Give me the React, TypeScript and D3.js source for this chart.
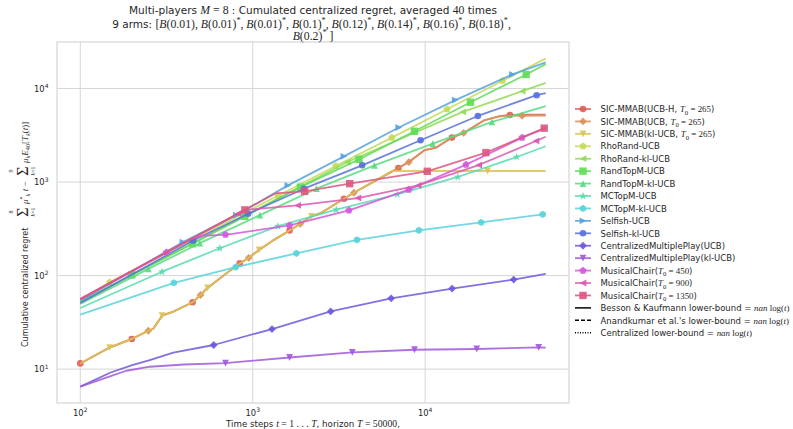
import React from 'react';
import * as d3 from 'd3';

type Pt = [number, number];
type Seg = [string, string];

// ---------- data (t, cumulated centralized regret) ----------
const sicUcbH: Pt[] = [[100,11.5],[148,17],[199,21],[248,25.7],[265,27],[298,37.3],[350,41.5],[448,51.8],[498,62],[547,73.8],[700,105],[841,135],[948,155],[1088,188],[1300,235],[1636,304],[1888,358],[2190,430],[2500,470],[3380,664],[3860,769],[6990,1413],[8040,1637],[9900,2190],[11600,2340],[14300,2990],[16700,3350],[22000,4580],[27000,5080],[31000,5220],[40000,5260],[50000,5270]];
const sicUcb: Pt[] = [[100,11.5],[148,17],[199,21],[248,25.7],[265,27],[298,37.3],[350,41.5],[448,51.8],[498,62],[547,73.8],[700,105],[841,135],[948,155],[1088,188],[1300,235],[1636,304],[1888,358],[2190,430],[2500,470],[3380,664],[3860,769],[6990,1413],[8040,1637],[9900,2190],[11600,2340],[14300,2990],[16700,3350],[22000,4580],[27000,5030],[31000,5150],[36500,5120],[50000,5130]];
const sicKlUcb: Pt[] = [[100,11.5],[148,17],[199,21],[248,25.7],[265,27],[298,37.3],[350,41.5],[448,51.8],[498,62],[547,73.8],[700,105],[841,135],[948,155],[1088,188],[1300,235],[1636,304],[1888,358],[2190,430],[2500,470],[3380,664],[3860,769],[6400,1313],[23000,1313],[50000,1313]];
const rhoRandUcb: Pt[] = [[100,55.5],[148,84.7],[1400,715],[3030,1486],[6410,2990],[13400,6010],[28100,12100],[50000,21000]];
const rhoRandKlUcb: Pt[] = [[100,52],[3530,1637],[16500,5620],[36500,9370],[50000,11500]];
const randTopMUcb: Pt[] = [[100,52.5],[199,101.6],[448,219],[900,430],[1890,883],[4130,1750],[8670,3490],[18300,7140],[38500,14150],[50000,18250]];
const randTopMKlUcb: Pt[] = [[100,49.8],[248,118],[493,222],[1099,443],[2340,849],[5080,1510],[11060,2580],[24400,4400],[50000,6470]];
const mcTopMUcb: Pt[] = [[100,45],[298,110],[644,196],[1400,337],[3050,506],[6890,738],[15450,1133],[33900,1853],[50000,2415]];
const mcTopMKlUcb: Pt[] = [[100,38.2],[349,83.6],[797,123],[1790,173],[4020,241],[9190,304],[21100,370],[48000,451],[50000,458]];
const selfishUcb: Pt[] = [[100,54],[394,228],[804,443],[1600,922],[3380,1884],[7030,3830],[14960,7520],[32100,14160],[50000,19050]];
const selfishKlUcb: Pt[] = [[100,51],[452,237],[940,458],[1983,849],[4310,1510],[9400,2800],[20200,5090],[44300,8490],[50000,8930]];
const cmpUcb: Pt[] = [[100,6.5],[150,9.2],[200,11],[253,12.5],[346,15],[594,18.1],[1294,26.8],[2830,41.4],[6350,57.1],[14320,72.6],[32600,90.6],[50000,104]];
const cmpKlUcb: Pt[] = [[100,6.5],[150,8.4],[185,9.6],[253,10.6],[400,11.2],[695,11.6],[1636,13.3],[3780,15.1],[8670,16.1],[19900,16.4],[45500,17.1],[50000,17]];
const musicalChair450: Pt[] = [[100,56],[316,177],[450,252],[513,268],[695,273],[1636,344],[3614,498],[8035,829],[17260,1536],[36500,2990],[50000,3760]];
const musicalChair900: Pt[] = [[100,56],[820,459],[900,504],[1820,563],[4070,675],[9100,920],[20400,1520],[43900,2750],[50000,3050]];
const musicalChair1350: Pt[] = [[100,56],[900,504],[1350,756],[2000,795],[3650,961],[10280,1303],[22500,2065],[49000,3770],[50000,3840]];

const armMeans = ['0.01', '0.01', '0.01', '0.1', '0.12', '0.14', '0.16', '0.18', '0.2'];
const xTicks = [100, 1000, 10000];
const yTicks = [10, 100, 1000, 10000];

const T0 = (v: string): Seg[] => [['i', 'T'], ['br', '0'], ['r', ' = ' + v]];

const seriesList: { data: Pt[]; marker: string; marks: number[]; label: Seg[] }[] = [
  { data: sicUcbH, marker: 'o', marks: [100, 199, 448, 841, 1636, 3380, 6990, 14300, 31000], label: [['n', 'SIC-MMAB(UCB-H, '], ...T0('265'), ['n', ')']] },
  { data: sicUcb, marker: 'D', marks: [248, 498, 948, 1888, 3860, 8040, 16700, 36500], label: [['n', 'SIC-MMAB(UCB, '], ...T0('265'), ['n', ')']] },
  { data: sicKlUcb, marker: 'v', marks: [148, 298, 547, 1088, 2190, 23000], label: [['n', 'SIC-MMAB(kl-UCB, '], ...T0('265'), ['n', ')']] },
  { data: rhoRandUcb, marker: 'p', marks: [148, 1400, 3030, 6410, 13400, 28100], label: [['n', 'RhoRand-UCB']] },
  { data: rhoRandKlUcb, marker: '<', marks: [3530, 16500, 36500], label: [['n', 'RhoRand-kl-UCB']] },
  { data: randTopMUcb, marker: 's', marks: [199, 448, 900, 1890, 4130, 8670, 18300, 38500], label: [['n', 'RandTopM-UCB']] },
  { data: randTopMKlUcb, marker: '^', marks: [248, 493, 1099, 2340, 5080, 11060, 24400], label: [['n', 'RandTopM-kl-UCB']] },
  { data: mcTopMUcb, marker: '*', marks: [298, 644, 1400, 3050, 6890, 15450, 33900], label: [['n', 'MCTopM-UCB']] },
  { data: mcTopMKlUcb, marker: 'h', marks: [349, 797, 1790, 4020, 9190, 21100, 48000], label: [['n', 'MCTopM-kl-UCB']] },
  { data: selfishUcb, marker: '>', marks: [394, 804, 1600, 3380, 7030, 14960, 32100], label: [['n', 'Selfish-UCB']] },
  { data: selfishKlUcb, marker: 'o', marks: [452, 940, 1983, 4310, 9400, 20200, 44300], label: [['n', 'Selfish-kl-UCB']] },
  { data: cmpUcb, marker: 'D', marks: [594, 1294, 2830, 6350, 14320, 32600], label: [['n', 'CentralizedMultiplePlay(UCB)']] },
  { data: cmpKlUcb, marker: 'v', marks: [695, 1636, 3780, 8670, 19900, 45500], label: [['n', 'CentralizedMultiplePlay(kl-UCB)']] },
  { data: musicalChair450, marker: 'p', marks: [316, 695, 1636, 3614, 8035, 17260, 36500], label: [['n', 'MusicalChair('], ...T0('450'), ['n', ')']] },
  { data: musicalChair900, marker: '<', marks: [820, 1820, 4070, 9100, 20400, 43900], label: [['n', 'MusicalChair('], ...T0('900'), ['n', ')']] },
  { data: musicalChair1350, marker: 's', marks: [900, 2000, 3650, 10280, 22500, 49000], label: [['n', 'MusicalChair('], ...T0('1350'), ['n', ')']] },
];

const boundLabels: { dash: string; label: Seg[] }[] = [
  { dash: '', label: [['n', 'Besson & Kaufmann lower-bound = '], ['i', 'nan'], ['r', ' log('], ['i', 't'], ['r', ')']] },
  { dash: '4,2', label: [['n', "Anandkumar et al.'s lower-bound = "], ['i', 'nan'], ['r', ' log('], ['i', 't'], ['r', ')']] },
  { dash: '1,1.5', label: [['n', 'Centralized lower-bound = '], ['i', 'nan'], ['r', ' log('], ['i', 't'], ['r', ')']] },
];

// ---------- layout ----------
const W = 793, H = 429;
const PL = 57, PR = 569, PT = 42, PB = 403;
const SANS = 'DejaVu Sans';
const SERIF = 'Liberation Serif';
const FS = 8.4;
const LFS = 8.5;
const TFS = 10.5;
const YFS = 8.0;
const GRID = '#d6d6d6';

const color = (i: number) => d3.hsl(((0.01 + i / 16) % 1) * 360, 0.65, 0.6).formatHex();

const poly = (pts: number[][]) => 'M' + pts.map(p => p[0].toFixed(2) + ',' + p[1].toFixed(2)).join('L') + 'Z';
const regular = (n: number, r: number) => d3.range(n).map(i => {
  const a = (i * 2 * Math.PI) / n;
  return [r * Math.sin(a), -r * Math.cos(a)];
});
function markerPath(k: string): string {
  const r = 3.4;
  switch (k) {
    case 'o': return d3.symbol(d3.symbolCircle, Math.PI * 3.3 * 3.3)() as string;
    case 'D': return poly([[0, -3.9], [3.9, 0], [0, 3.9], [-3.9, 0]]);
    case 'v': return poly([[0, r], [-r, -r], [r, -r]]);
    case '^': return poly([[0, -r], [-r, r], [r, r]]);
    case '<': return poly([[-r, 0], [r, -r], [r, r]]);
    case '>': return poly([[r, 0], [-r, -r], [-r, r]]);
    case 's': return poly([[-3.7, -3.7], [3.7, -3.7], [3.7, 3.7], [-3.7, 3.7]]);
    case 'p': return poly(regular(5, 3.8));
    case 'h': return poly(regular(6, 3.6));
    case '*': return poly(d3.range(10).map(i => {
      const a = (i * Math.PI) / 5;
      const rr = i % 2 === 0 ? 4.3 : 1.7;
      return [rr * Math.sin(a), -rr * Math.cos(a)];
    }));
  }
  return '';
}

function Rich(props: { segs: Seg[]; size: number; x: number; y: number; anchor?: string; fill?: string; mathScale?: number }) {
  const { segs, size, x, y, anchor, fill } = props;
  const ms = props.mathScale ?? 1.12;
  let off = 0;
  const spans = segs.map(([k, t], i) => {
    let family = SANS, style = 'normal', fs = size, target = 0;
    if (k === 'i') { family = SERIF; style = 'italic'; fs = size * ms; }
    if (k === 'r') { family = SERIF; fs = size * ms; }
    if (k === 'br') { family = SERIF; fs = size * 0.78; target = size * 0.3; }
    if (k === 'bi') { family = SERIF; style = 'italic'; fs = size * 0.78; target = size * 0.3; }
    if (k === 'pr') { family = SERIF; fs = size * 0.78; target = -size * 0.45; }
    const dy = target - off;
    off = target;
    return (
      <tspan key={i} dy={dy !== 0 ? dy : undefined} fontFamily={family} fontStyle={style} fontSize={fs} style={{ whiteSpace: 'pre' }}>
        {t}
      </tspan>
    );
  });
  return (
    <text x={x} y={y} textAnchor={anchor || 'start'} fill={fill || '#262626'} fontSize={size} style={{ whiteSpace: 'pre' }}>
      {spans}
    </text>
  );
}

export default function App() {
  const all = seriesList.flatMap(s => s.data);
  const lt = d3.extent(all, d => Math.log10(d[0])) as [number, number];
  const lr = d3.extent(all, d => Math.log10(d[1])) as [number, number];
  const pt = 0.05 * (lt[1] - lt[0]);
  const pr = 0.05 * (lr[1] - lr[0]);
  const x = d3.scaleLog().domain([10 ** (lt[0] - pt), 10 ** (lt[1] + pt)]).range([PL, PR]);
  const y = d3.scaleLog().domain([10 ** (lr[0] - pr), 10 ** (lr[1] + pr)]).range([PB, PT]);
  const line = d3.line<Pt>().x(d => x(d[0])).y(d => y(d[1]));

  const title2: Seg[] = [['n', '9 arms: '], ['r', '[']];
  armMeans.slice(0, 8).forEach((m, i) => {
    title2.push(['i', 'B'], ['r', '(' + m + ')']);
    if (i > 0) title2.push(['pr', '*']);
    title2.push(['r', ', ']);
  });
  const title3: Seg[] = [['i', 'B'], ['r', '(' + armMeans[8] + ')'], ['pr', '*'], ['r', ' ]']];

  const legendY = (i: number) => 109 + 12.43 * i;
  const cx = (PL + PR) / 2;

  return (
    <svg width={W} height={H} style={{ position: 'absolute', left: 0, top: 0 }} fontFamily={SANS}>
      <rect width={W} height={H} fill="#ffffff" />
      <defs>
        <clipPath id="plot"><rect x={PL} y={PT} width={PR - PL} height={PB - PT} /></clipPath>
      </defs>
      {/* grid */}
      {xTicks.map(t => (
        <line key={'gx' + t} x1={x(t)} x2={x(t)} y1={PT} y2={PB} stroke={GRID} strokeWidth={1} />
      ))}
      {yTicks.map(t => (
        <line key={'gy' + t} x1={PL} x2={PR} y1={y(t)} y2={y(t)} stroke={GRID} strokeWidth={1} />
      ))}
      {/* series */}
      <g clipPath="url(#plot)">
        {seriesList.map((s, i) => {
          const c = color(i);
          const mp = markerPath(s.marker);
          const pts = s.data.filter(d => s.marks.includes(d[0]));
          return (
            <g key={'s' + i}>
              <path d={line(s.data) || ''} fill="none" stroke={c} strokeWidth={1.8} strokeOpacity={0.85} strokeLinejoin="round" />
              {pts.map((d, j) => (
                <path key={j} d={mp} transform={`translate(${x(d[0])},${y(d[1])})`} fill={c} fillOpacity={0.9} />
              ))}
            </g>
          );
        })}
      </g>
      {/* spines */}
      <rect x={PL} y={PT} width={PR - PL} height={PB - PT} fill="none" stroke={GRID} strokeWidth={1.2} />
      {/* x tick labels */}
      {xTicks.map(t => (
        <text key={'xt' + t} x={x(t)} y={416} textAnchor="middle" fontSize={FS} fill="#262626">
          10<tspan dy={-3.8} fontSize={6}>{Math.round(Math.log10(t))}</tspan>
        </text>
      ))}
      {/* y tick labels */}
      {yTicks.map(t => (
        <text key={'yt' + t} x={48.5} y={y(t) + 3.3} textAnchor="end" fontSize={FS} fill="#262626">
          10<tspan dy={-3.8} fontSize={6}>{Math.round(Math.log10(t))}</tspan>
        </text>
      ))}
      {/* x label */}
      <Rich x={cx} y={426.5} anchor="middle" size={8.7} segs={[['n', 'Time steps '], ['i', 't'], ['r', ' = 1 . . . '], ['i', 'T'], ['n', ', horizon '], ['i', 'T'], ['r', ' = 50000'], ['n', ',']]} />
      {/* y label */}
      <g transform="translate(27.5,223) rotate(-90)" fill="#262626">
        <text x={-124} y={0} fontSize={YFS}>Cumulative centralized regret</text>
        <text x={11} y={0.5} fontSize={16} fontFamily={SERIF} textAnchor="middle">Σ</text>
        <text x={11} y={-14.5} fontSize={6} fontFamily={SERIF} textAnchor="middle">8</text>
        <text x={11} y={7.5} fontSize={6} fontFamily={SERIF} textAnchor="middle"><tspan fontStyle="italic">k</tspan>=1</text>
        <Rich x={19} y={0} size={YFS} segs={[['i', 'μ'], ['pr', '*'], ['bi', 'k'], ['i', ' t'], ['r', ' − ']]} />
        <text x={52} y={0.5} fontSize={16} fontFamily={SERIF} textAnchor="middle">Σ</text>
        <text x={52} y={-14.5} fontSize={6} fontFamily={SERIF} textAnchor="middle">9</text>
        <text x={52} y={7.5} fontSize={6} fontFamily={SERIF} textAnchor="middle"><tspan fontStyle="italic">k</tspan>=1</text>
        <Rich x={60} y={0} size={YFS} segs={[['i', 'μ'], ['bi', 'k'], ['i', 'E'], ['br', '40'], ['r', '['], ['i', 'T'], ['bi', 'k'], ['r', '('], ['i', 't'], ['r', ')]']]} />
      </g>
      {/* title */}
      <Rich x={cx} y={14} anchor="middle" size={TFS} segs={[['n', 'Multi-players '], ['i', 'M'], ['r', ' = 8'], ['n', ' : Cumulated centralized regret, averaged '], ['r', '40'], ['n', ' times']]} />
      <Rich x={cx} y={27.5} anchor="middle" size={TFS} segs={title2} />
      <Rich x={cx} y={39.5} anchor="middle" size={TFS} segs={title3} />
      {/* legend */}
      {seriesList.map((s, i) => {
        const ly = legendY(i);
        const c = color(i);
        return (
          <g key={'lg' + i}>
            <line x1={575} x2={591} y1={ly} y2={ly} stroke={c} strokeWidth={1.8} strokeOpacity={0.85} />
            <path d={markerPath(s.marker)} transform={`translate(583,${ly})`} fill={c} fillOpacity={0.9} />
            <Rich x={600.5} y={ly + 3.2} size={LFS} segs={s.label} mathScale={1.05} />
          </g>
        );
      })}
      {boundLabels.map((b, j) => {
        const ly = legendY(seriesList.length + j);
        return (
          <g key={'lb' + j}>
            <line x1={575} x2={591} y1={ly} y2={ly} stroke="#000" strokeWidth={1.5} strokeDasharray={b.dash || undefined} />
            <Rich x={600.5} y={ly + 3.2} size={LFS} segs={b.label} mathScale={1.05} />
          </g>
        );
      })}
    </svg>
  );
}
